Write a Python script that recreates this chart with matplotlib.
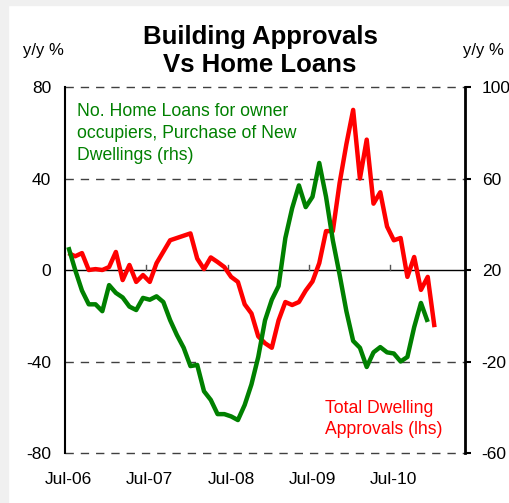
import numpy as np
import matplotlib
matplotlib.use("Agg")
import matplotlib.pyplot as plt
from matplotlib.patches import Rectangle

plt.rcParams['font.family'] = ['Liberation Sans', 'DejaVu Sans']

# monthly, starting Jul-06
approvals = [7.4, 6, 7.4, 0, 0.4, 0, 1.3, 7.9, -4.4, 2.2, -5.2, -2.2, -5.2, 3, 8, 13,
             14, 15, 16, 5, 0.4, 5.5, 3.5, 1.3, -3, -5.2, -15, -19, -29, -32, -34, -22,
             -14, -15.3, -14, -9, -5, 3, 17, 17, 38, 55, 70, 40, 57, 29, 34, 19, 13,
             14, -3, 5.7, -8.7, -3, -25]
home_loans = [30, 20, 11, 5, 5, 2, 13.4, 10, 8, 4, 2.5, 7.8, 7, 8.5, 6, -1.9, -8.4,
              -14, -22, -21.5, -33, -36.8, -43, -43, -44, -45.6, -39, -30, -18, -2, 7,
              13, 34, 47, 57, 47.5, 52, 66.8, 52, 33, 18, 2, -11, -14, -22.4, -16,
              -13.7, -16, -16.5, -20, -18, -5, 5.6, -2.7]
xlabels = ['Jul-06', 'Jul-07', 'Jul-08', 'Jul-09', 'Jul-10']
left_ticks = [-80, -40, 0, 40, 80]
right_ticks = [-60, -20, 20, 60, 100]

red = '#ff0000'
green = '#008000'
grid_c = '#404040'

fig = plt.figure(figsize=[5.10, 5.03], dpi=100)
fig.patches.append(Rectangle((0, 0.99), 1, 0.01, transform=fig.transFigure,
                             color='#f0f0f0', zorder=0))
fig.patches.append(Rectangle((0, 0), 0.016, 1, transform=fig.transFigure,
                             color='#f0f0f0', zorder=0))

ax = fig.add_axes([0.1275, 0.0994, 0.7843, 0.7276])
ax2 = ax.twinx()

x1 = np.arange(len(approvals))
x2 = np.arange(len(home_loans))

for y in [40, -40, 80, -80]:
    ax.axhline(y, color=grid_c, lw=1, ls=(0, (6, 5)), zorder=1, clip_on=False)
ax.axhline(0, color='black', lw=1, zorder=1)
for t in [11.5, 23.5, 35.5, 47.5]:
    ax.plot([t, t], [0, 2.2], color='#555555', lw=1, zorder=1)

ax.plot(x1, approvals, color=red, lw=3.2, solid_joinstyle='round',
        solid_capstyle='butt', zorder=3)
ax2.plot(x2, home_loans, color=green, lw=3.2, solid_joinstyle='round',
         solid_capstyle='butt', zorder=3)

ax.set_xlim(-0.5, 58.5)
ax.set_ylim(-80, 80)
ax2.set_ylim(-60, 100)

ax.set_yticks(left_ticks)
ax.set_yticklabels([str(v) for v in left_ticks], fontsize=12.5)
ax.tick_params(axis='y', length=0, pad=10)
ax2.set_yticks(right_ticks)
ax2.set_yticklabels([str(v) for v in right_ticks], fontsize=12.5)
ax2.tick_params(axis='y', length=4, width=1.5, pad=8, direction='out')

ax.set_xticks([0, 12, 24, 36, 48])
ax.set_xticklabels(xlabels, fontsize=12.5)
ax.tick_params(axis='x', length=0, pad=14)

for a in (ax, ax2):
    a.spines['top'].set_visible(False)
    a.spines['bottom'].set_visible(False)
ax.spines['left'].set_linewidth(1.5)
ax2.spines['right'].set_linewidth(2)
ax2.spines['left'].set_visible(False)

fig.text(0.51, 0.927, 'Building Approvals', ha='center', va='center',
         fontsize=18.5, fontweight='bold')
fig.text(0.51, 0.870, 'Vs Home Loans', ha='center', va='center',
         fontsize=18.5, fontweight='bold')
fig.text(0.086, 0.9, 'y/y %', ha='center', va='center', fontsize=12)
fig.text(0.947, 0.9, 'y/y %', ha='center', va='center', fontsize=12)

ax.text(0.03, 0.955, 'No. Home Loans for owner\noccupiers, Purchase of New\nDwellings (rhs)',
        transform=ax.transAxes, ha='left', va='top', color=green, fontsize=12.7,
        linespacing=1.35)
ax.text(0.65, 0.145, 'Total Dwelling\nApprovals (lhs)', transform=ax.transAxes,
        ha='left', va='top', color=red, fontsize=12.7, linespacing=1.35)

fig.savefig('out.png', dpi=100)
